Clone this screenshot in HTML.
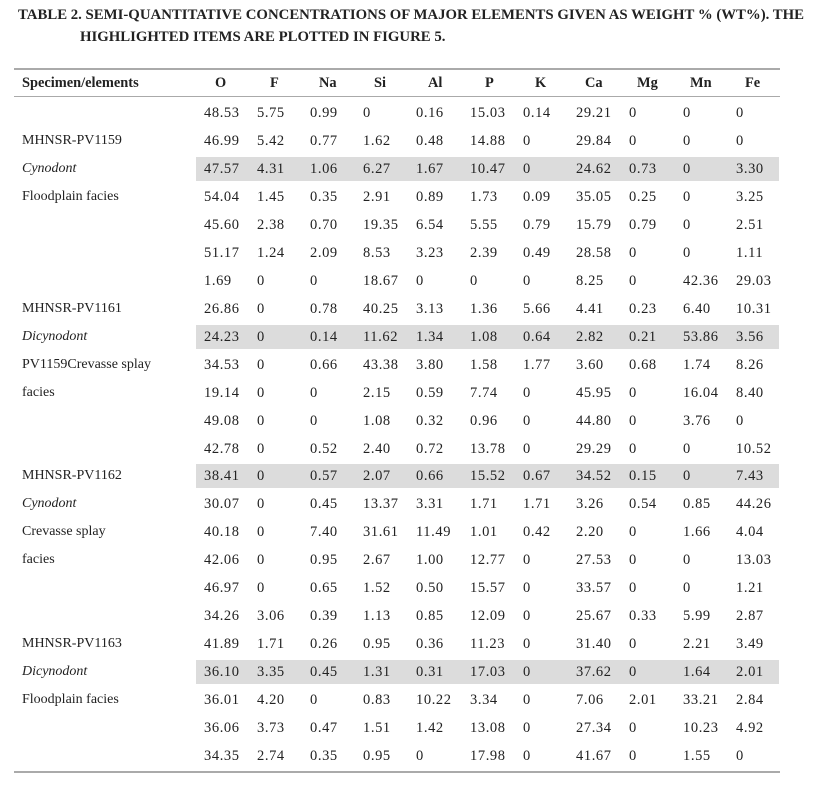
<!DOCTYPE html>
<html><head><meta charset="utf-8"><style>
body{margin:0;width:819px;height:786px;background:#fff;position:relative;font-family:"Liberation Serif",serif;color:#222;overflow:hidden}
.t{position:absolute;white-space:nowrap;font-size:14px;line-height:16px}
.n{font-size:14.5px;letter-spacing:0.6px}
.title{position:absolute;font-weight:bold;font-size:14.8px;white-space:nowrap;color:#222}
.line{position:absolute;left:14px;width:766px;height:1px;background:#aaa}
.band{position:absolute;left:196px;width:583px;height:24px;background:#dcdcdc}
.h{font-weight:bold;font-size:14.4px}
</style></head><body>
<div class="title" style="left:18px;top:7px">TABLE 2. SEMI-QUANTITATIVE CONCENTRATIONS OF MAJOR ELEMENTS GIVEN AS WEIGHT % (WT%). THE</div>
<div class="title" style="left:80px;top:29px">HIGHLIGHTED ITEMS ARE PLOTTED IN FIGURE 5.</div>
<div class="line" style="top:68px;height:2px"></div>
<div class="line" style="top:96px"></div>
<div class="line" style="top:771px;height:2px"></div>
<div id="tbl"></div>
<script>
const headers=["O","F","Na","Si","Al","P","K","Ca","Mg","Mn","Fe"];
const headerX=[215,270,319,374,428,485,535,585,637,690,745];
const colX=[204,257,310,363,416,470,523,576,629,683,736];
const labels=["","MHNSR-PV1159","*Cynodont","Floodplain facies","","","","MHNSR-PV1161","*Dicynodont","PV1159Crevasse splay","facies","","","MHNSR-PV1162","*Cynodont","Crevasse splay","facies","","","MHNSR-PV1163","*Dicynodont","Floodplain facies","",""];
const highlighted=[2,8,13,20];
const rows=[
["48.53","5.75","0.99","0","0.16","15.03","0.14","29.21","0","0","0"],
["46.99","5.42","0.77","1.62","0.48","14.88","0","29.84","0","0","0"],
["47.57","4.31","1.06","6.27","1.67","10.47","0","24.62","0.73","0","3.30"],
["54.04","1.45","0.35","2.91","0.89","1.73","0.09","35.05","0.25","0","3.25"],
["45.60","2.38","0.70","19.35","6.54","5.55","0.79","15.79","0.79","0","2.51"],
["51.17","1.24","2.09","8.53","3.23","2.39","0.49","28.58","0","0","1.11"],
["1.69","0","0","18.67","0","0","0","8.25","0","42.36","29.03"],
["26.86","0","0.78","40.25","3.13","1.36","5.66","4.41","0.23","6.40","10.31"],
["24.23","0","0.14","11.62","1.34","1.08","0.64","2.82","0.21","53.86","3.56"],
["34.53","0","0.66","43.38","3.80","1.58","1.77","3.60","0.68","1.74","8.26"],
["19.14","0","0","2.15","0.59","7.74","0","45.95","0","16.04","8.40"],
["49.08","0","0","1.08","0.32","0.96","0","44.80","0","3.76","0"],
["42.78","0","0.52","2.40","0.72","13.78","0","29.29","0","0","10.52"],
["38.41","0","0.57","2.07","0.66","15.52","0.67","34.52","0.15","0","7.43"],
["30.07","0","0.45","13.37","3.31","1.71","1.71","3.26","0.54","0.85","44.26"],
["40.18","0","7.40","31.61","11.49","1.01","0.42","2.20","0","1.66","4.04"],
["42.06","0","0.95","2.67","1.00","12.77","0","27.53","0","0","13.03"],
["46.97","0","0.65","1.52","0.50","15.57","0","33.57","0","0","1.21"],
["34.26","3.06","0.39","1.13","0.85","12.09","0","25.67","0.33","5.99","2.87"],
["41.89","1.71","0.26","0.95","0.36","11.23","0","31.40","0","2.21","3.49"],
["36.10","3.35","0.45","1.31","0.31","17.03","0","37.62","0","1.64","2.01"],
["36.01","4.20","0","0.83","10.22","3.34","0","7.06","2.01","33.21","2.84"],
["36.06","3.73","0.47","1.51","1.42","13.08","0","27.34","0","10.23","4.92"],
["34.35","2.74","0.35","0.95","0","17.98","0","41.67","0","1.55","0"]];
const tb=document.getElementById('tbl');
function add(cls,txt,x,y,italic){const d=document.createElement('div');d.className='t '+cls;d.textContent=txt;d.style.left=x+'px';d.style.top=y+'px';if(italic)d.style.fontStyle='italic';tb.appendChild(d);return d;}
let hd=add('h','Specimen/elements',22,75);


headers.forEach((h,i)=>{const d=add('h',h,headerX[i],75);

});
const y0=113,dy=27.96;
rows.forEach((r,ri)=>{const cy=y0+ri*dy;
if(highlighted.includes(ri)){const b=document.createElement('div');b.className='band';b.style.top=(cy-12)+'px';


tb.appendChild(b);}
let l=labels[ri];if(l){const it=l[0]=='*';const d=add('',it?l.slice(1):l,22,cy-8,it);

}
r.forEach((v,ci)=>{const d=add('n',v,colX[ci],cy-8);

});
});
</script>
</body></html>
